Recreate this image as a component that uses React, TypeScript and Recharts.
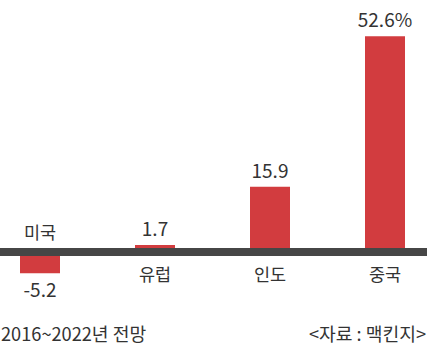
import React from 'react';
import { BarChart, Bar, XAxis, YAxis, ReferenceLine, LabelList } from 'recharts';

const categories = ['미국', '유럽', '인도', '중국'];
const growth = [-5.2, 1.7, 15.9, 52.6];
const valueLabels = ['-5.2', '1.7', '15.9', '52.6%'];
const yDomain: [number, number] = [-20, 60];
const periodNote = '2016~2022년 전망';
const sourceNote = '<자료 : 맥킨지>';

const data = categories.map((name, i) => ({ name, value: growth[i], label: valueLabels[i] }));

const FONT = '"Noto Sans CJK KR", "Noto Sans", sans-serif';
const TEXT = '#333333';
const RED = '#d23c3f';
const LINE = '#464646';

function barGeom(props: any) {
  const vb = props.viewBox || {};
  const x = Number(props.x ?? vb.x);
  const y = Number(props.y ?? vb.y);
  const w = Number(props.width ?? vb.width);
  const h = Number(props.height ?? vb.height);
  const top = Math.min(y, y + h);
  const bottom = Math.max(y, y + h);
  return { cx: x + w / 2, top, bottom };
}

const CategoryLabel = (props: any) => {
  const i = categories.indexOf(String(props.value));
  const { cx, top, bottom } = barGeom(props);
  const neg = growth[i] < 0;
  const zeroY = neg ? top : bottom;
  const y = neg ? zeroY - 13 : zeroY + 29;
  return (
    <text x={cx} y={y} textAnchor="middle" fill={TEXT} fontSize={17.5} fontFamily={FONT}>
      {props.value}
    </text>
  );
};

const ValueLabel = (props: any) => {
  const i = valueLabels.indexOf(String(props.value));
  const { cx, top, bottom } = barGeom(props);
  const neg = growth[i] < 0;
  const y = neg ? bottom + 24 : top - 9;
  return (
    <text x={cx} y={y} textAnchor="middle" fill={TEXT} fontSize={19} fontFamily={FONT}>
      {props.value}
    </text>
  );
};

export default function App() {
  return (
    <div
      style={{
        position: 'absolute',
        left: 0,
        top: 0,
        width: 427,
        height: 344,
        overflow: 'hidden',
        background: '#ffffff',
      }}
    >
      <div style={{ position: 'absolute', left: -18.5, top: 0 }}>
        <BarChart
          width={460}
          height={344}
          data={data}
          margin={{ top: 6, right: 0, bottom: 10, left: 0 }}
        >
          <XAxis dataKey="name" hide />
          <YAxis domain={yDomain} hide type="number" allowDataOverflow />
          <Bar dataKey="value" fill={RED} barSize={40} isAnimationActive={false}>
            <LabelList dataKey="name" content={CategoryLabel} />
            <LabelList dataKey="label" content={ValueLabel} />
          </Bar>
          <ReferenceLine y={0} stroke={LINE} strokeWidth={8} />
        </BarChart>
      </div>
      <svg
        width={427}
        height={344}
        style={{ position: 'absolute', left: 0, top: 0, pointerEvents: 'none' }}
      >
        <text x={1} y={340.5} fill={TEXT} fontSize={18.2} fontFamily={FONT}>
          {periodNote}
        </text>
        <text x={426} y={340.5} textAnchor="end" fill={TEXT} fontSize={18.2} fontFamily={FONT}>
          {sourceNote}
        </text>
      </svg>
    </div>
  );
}
